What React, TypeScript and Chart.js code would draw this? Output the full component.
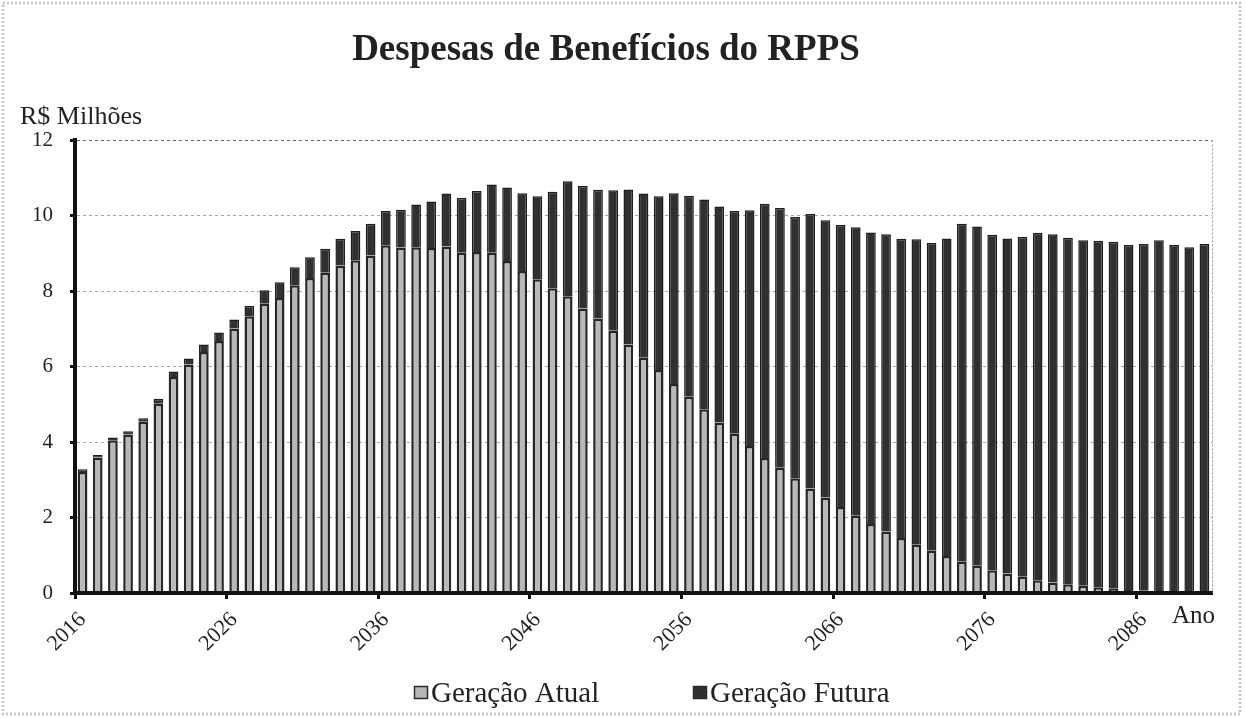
import React, { useEffect, useRef } from "react";
import { Chart, registerables } from "chart.js";

Chart.register(...registerables);

const years = [
  "2016", "2017", "2018", "2019", "2020", "2021", "2022", "2023", "2024", "2025",
  "2026", "2027", "2028", "2029", "2030", "2031", "2032", "2033", "2034", "2035",
  "2036", "2037", "2038", "2039", "2040", "2041", "2042", "2043", "2044", "2045",
  "2046", "2047", "2048", "2049", "2050", "2051", "2052", "2053", "2054", "2055",
  "2056", "2057", "2058", "2059", "2060", "2061", "2062", "2063", "2064", "2065",
  "2066", "2067", "2068", "2069", "2070", "2071", "2072", "2073", "2074", "2075",
  "2076", "2077", "2078", "2079", "2080", "2081", "2082", "2083", "2084", "2085",
  "2086", "2087", "2088", "2089", "2090",
];

const geracaoAtual = [
  3.21, 3.59, 4.05, 4.2, 4.54, 5.02, 5.73, 6.06, 6.39, 6.68,
  7.01, 7.34, 7.67, 7.82, 8.16, 8.35, 8.49, 8.68, 8.82, 8.95,
  9.22, 9.16, 9.17, 9.15, 9.19, 9.02, 9.04, 9.02, 8.8, 8.54,
  8.32, 8.08, 7.87, 7.54, 7.28, 6.95, 6.59, 6.24, 5.91, 5.54,
  5.2, 4.87, 4.52, 4.22, 3.9, 3.58, 3.32, 3.04, 2.77, 2.53,
  2.28, 2.05, 1.83, 1.63, 1.46, 1.28, 1.12, 0.98, 0.83, 0.72,
  0.6, 0.52, 0.43, 0.34, 0.28, 0.23, 0.19, 0.15, 0.11, 0.08,
  0.06, 0.04, 0.03, 0.02, 0.01,
];

const geracaoFutura = [
  0.07, 0.07, 0.07, 0.09, 0.09, 0.13, 0.14, 0.16, 0.2, 0.23,
  0.24, 0.27, 0.36, 0.42, 0.48, 0.55, 0.64, 0.71, 0.78, 0.84,
  0.91, 1.0, 1.13, 1.23, 1.4, 1.45, 1.62, 1.81, 1.95, 2.06,
  2.2, 2.56, 3.05, 3.25, 3.41, 3.73, 4.11, 4.35, 4.61, 5.06,
  5.33, 5.56, 5.73, 5.91, 6.25, 6.74, 6.89, 6.93, 7.28, 7.35,
  7.48, 7.65, 7.73, 7.88, 7.93, 8.1, 8.16, 8.42, 8.96, 9.0,
  8.9, 8.88, 9.01, 9.21, 9.23, 9.19, 9.16, 9.19, 9.2, 9.15,
  9.19, 9.31, 9.2, 9.15, 9.24,
];

const titleText = "Despesas de Benefícios do RPPS";
const yUnitText = "R$ Milhões";
const xUnitText = "Ano";
const seriesLabels = ["Geração Atual", "Geração Futura"];

const SERIF = "'Liberation Serif', 'DejaVu Serif', serif";

const decorPlugin = {
  id: "decor",
  afterDraw(chart: any) {
    const { ctx, chartArea } = chart;
    ctx.save();
    // outer frame
    ctx.strokeStyle = "#c8c8c8";
    ctx.lineWidth = 3;
    ctx.setLineDash([2, 2]);
    ctx.strokeRect(3, 3, 1237, 711);
    // plot area right border (dotted)
    ctx.strokeStyle = "#9a9a9a";
    ctx.lineWidth = 1;
    ctx.setLineDash([2, 2]);
    ctx.beginPath();
    ctx.moveTo(chartArea.right + 0.5, chartArea.top);
    ctx.lineTo(chartArea.right + 0.5, chartArea.bottom);
    ctx.stroke();
    ctx.setLineDash([]);

    ctx.fillStyle = "#222";
    ctx.textBaseline = "alphabetic";
    ctx.textAlign = "left";
    ctx.font = `26px ${SERIF}`;
    ctx.fillText(yUnitText, 20, 124);
    ctx.font = `25px ${SERIF}`;
    ctx.fillText(xUnitText, 1172, 623);

    // legend
    const ds = chart.data.datasets;
    const boxX = [414, 693];
    ctx.font = `29px ${SERIF}`;
    ds.forEach((d: any, i: number) => {
      ctx.fillStyle = d.backgroundColor;
      ctx.fillRect(boxX[i], 686, 14, 13);
      ctx.strokeStyle = "#2a2a2a";
      ctx.lineWidth = 1.5;
      ctx.strokeRect(boxX[i] + 0.5, 686.5, 13, 12);
      ctx.fillStyle = "#222";
      ctx.fillText(d.label, boxX[i] + 17, 702);
    });
    ctx.restore();
  },
};

export default function App() {
  const canvasRef = useRef<HTMLCanvasElement | null>(null);

  useEffect(() => {
    document.body.style.margin = "0";
    const canvas = canvasRef.current;
    if (!canvas) return;
    const chart = new Chart(canvas, {
      type: "bar",
      data: {
        labels: years,
        datasets: [
          {
            label: seriesLabels[0],
            data: geracaoAtual,
            backgroundColor: "#b8b8b8",
            borderColor: "#262626",
            borderWidth: 2.5,
            barPercentage: 0.64,
            categoryPercentage: 1,
          },
          {
            label: seriesLabels[1],
            data: geracaoFutura,
            backgroundColor: "#303030",
            borderColor: "#1e1e1e",
            borderWidth: 1.5,
            barPercentage: 0.64,
            categoryPercentage: 1,
          },
        ],
      },
      options: {
        responsive: false,
        animation: false,
        layout: { padding: { left: 0, right: 35, top: 0, bottom: 0 } },
        plugins: {
          legend: { display: false },
          tooltip: { enabled: false },
          title: {
            display: true,
            text: titleText,
            color: "#222",
            font: { family: SERIF, size: 37, weight: "bold" },
            padding: { top: 28, bottom: 68 },
          },
        },
        scales: {
          x: {
            stacked: true,
            afterFit: (scale: any) => {
              scale.height = 125;
            },
            border: { display: true, color: "#111", width: 4, z: 1 },
            grid: {
              display: true,
              offset: true,
              drawOnChartArea: false,
              tickLength: 6,
              tickWidth: 3,
              tickColor: (c: any) =>
                c.index !== undefined && c.index % 10 === 0 ? "#111" : "rgba(0,0,0,0)",
            },
            ticks: {
              autoSkip: false,
              minRotation: 45,
              maxRotation: 45,
              padding: 8,
              color: "#222",
              font: { family: SERIF, size: 22 },
              callback: (_v: any, idx: number) => (idx % 10 === 0 ? years[idx] : ""),
            },
          },
          y: {
            stacked: true,
            min: 0,
            max: 12,
            afterFit: (scale: any) => {
              scale.width = 75;
            },
            border: { display: true, color: "#111", width: 4, dash: [3, 3] },
            grid: {
              color: (c: any) =>
                c.tick && c.tick.value === 0
                  ? "rgba(0,0,0,0)"
                  : c.tick && c.tick.value === 12
                  ? "#666"
                  : "#a8a8a8",
              lineWidth: 1,
              tickLength: 5,
              tickWidth: 3,
              tickColor: "#111",
            },
            ticks: {
              stepSize: 2,
              padding: 17,
              color: "#222",
              font: { family: SERIF, size: 21 },
            },
          },
        },
      },
      plugins: [decorPlugin],
    } as any);
    return () => chart.destroy();
  }, []);

  return (
    <div style={{ width: 1247, height: 718, background: "#fff" }}>
      <canvas ref={canvasRef} width={1247} height={718} />
    </div>
  );
}
